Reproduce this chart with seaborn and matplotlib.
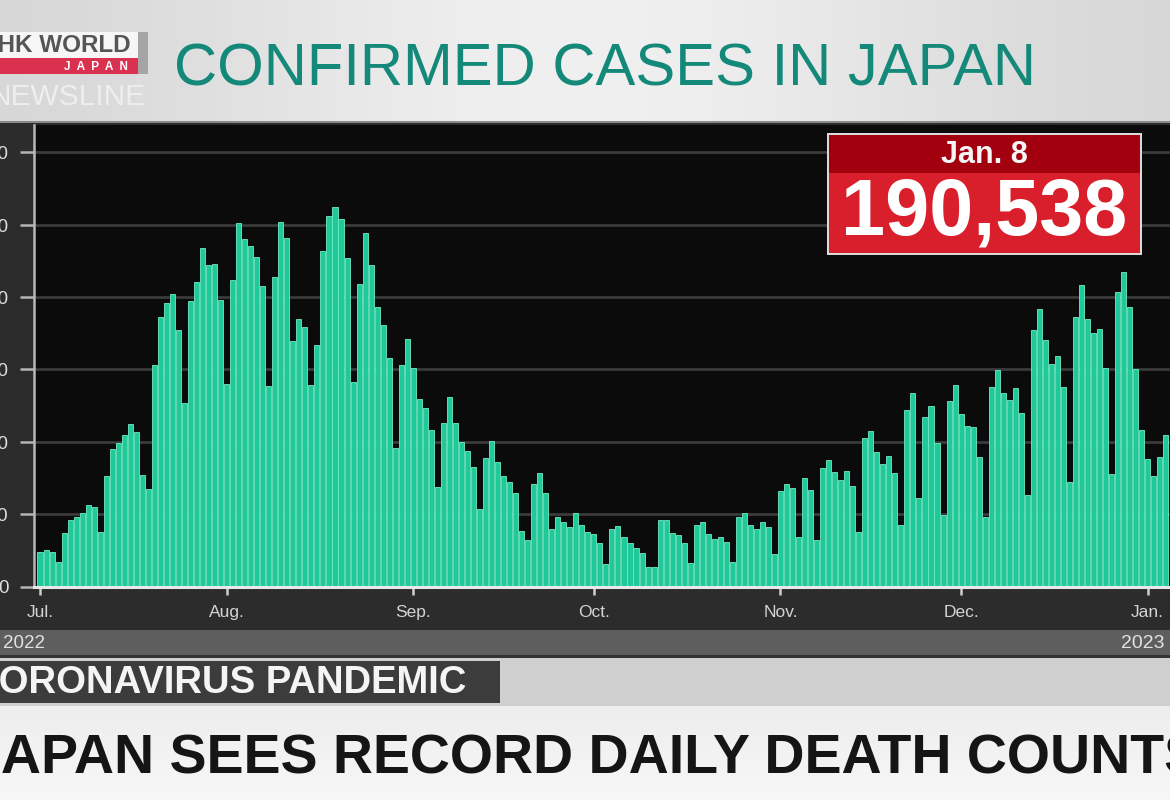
import numpy as np
import pandas as pd
import matplotlib
matplotlib.use("Agg")
import matplotlib.pyplot as plt
import seaborn as sns
from matplotlib.patches import Rectangle

# ---------------- data (daily confirmed cases, thousands) ----------------
jul_cases = [23.7, 25.3, 23.7, 17.3, 36.8, 46.0, 48.3, 50.6, 56.4, 54.8, 37.5,
             76.4, 95.0, 99.0, 104.7, 112.0, 106.5, 77.0, 67.4, 153.0, 186.0,
             195.6, 201.8, 177.0, 127.0, 197.0, 210.5, 234.0, 222.0, 223.0, 198.0]
aug_cases = [140.0, 211.7, 250.8, 240.0, 235.0, 228.0, 207.5, 138.5, 214.0, 252.0,
             241.0, 169.8, 184.5, 179.5, 139.0, 166.8, 232.0, 256.0, 262.0, 254.0,
             227.0, 141.0, 209.0, 244.0, 222.0, 193.0, 180.6, 158.0, 96.0, 153.0, 171.0]
sep_cases = [150.7, 129.5, 123.6, 108.0, 68.6, 112.7, 130.7, 113.0, 100.0, 94.0,
             82.4, 53.6, 88.6, 100.8, 86.3, 76.4, 72.0, 64.4, 38.7, 32.2,
             70.6, 78.2, 64.4, 39.8, 47.9, 44.9, 41.0, 50.6, 42.6, 37.5]
oct_cases = [36.4, 30.0, 16.0, 40.0, 41.9, 34.0, 30.4, 27.0, 23.0, 13.3, 13.3,
             46.0, 46.0, 37.3, 35.7, 30.0, 16.6, 42.6, 44.4, 36.4, 32.7, 34.0,
             31.0, 17.3, 48.3, 50.6, 42.6, 40.0, 44.9, 41.0, 22.6]
nov_cases = [66.0, 70.9, 67.9, 34.5, 74.8, 66.7, 32.2, 81.7, 87.4, 79.4, 74.0,
             80.0, 69.5, 37.5, 103.0, 107.5, 93.2, 84.4, 90.4, 78.2, 42.6, 122.0,
             134.0, 61.0, 117.0, 125.0, 99.0, 49.5, 128.0, 139.0]
dec_cases = [119.0, 111.0, 110.0, 89.7, 48.3, 138.0, 149.6, 133.5, 129.0, 137.0,
             120.0, 63.3, 177.0, 191.5, 170.0, 154.0, 159.0, 137.6, 72.0, 186.0,
             208.0, 184.8, 175.0, 178.0, 150.7, 77.5, 203.6, 217.4, 193.0, 150.0, 108.0]
jan_cases = [88.0, 76.4, 89.7, 105.0]

month_labels = ["Jul.", "Aug.", "Sep.", "Oct.", "Nov.", "Dec.", "Jan."]
year_labels = ["2022", "2023"]
y_ticks = [0, 50000, 100000, 150000, 200000, 250000, 300000]

title_text = "CONFIRMED CASES IN JAPAN"
box_date = "Jan. 8"
box_value = "190,538"
banner_text = "CORONAVIRUS PANDEMIC"
headline_text = "JAPAN SEES RECORD DAILY DEATH COUNTS"

months = [jul_cases, aug_cases, sep_cases, oct_cases, nov_cases, dec_cases, jan_cases]
cases = [v * 1000 for m in months for v in m]
dates = pd.date_range("2022-07-01", periods=len(cases), freq="D")
df = pd.DataFrame({"date": dates.strftime("%Y-%m-%d"), "cases": cases})
month_starts = list(np.cumsum([0] + [len(m) for m in months[:-1]]))

# ---------------- figure ----------------
sns.set_theme(style="dark")
plt.rcParams["font.family"] = ["Liberation Sans", "DejaVu Sans"]

W, H = 1170, 800
fig = plt.figure(figsize=(W / 100, H / 100), dpi=100)

def fx(px):
    return px / W

def fy(py):
    return 1 - py / H

# background layer in pixel coordinates
bg = fig.add_axes([0, 0, 1, 1])
bg.axis("off")
cols = np.linspace(0, 1, 400)
shade = 0.83 + 0.11 * np.exp(-((cols - 0.5) / 0.35) ** 2)
grad = np.dstack([shade, shade, shade])
grad = np.repeat(grad, 20, axis=0)
bg.imshow(grad, extent=(0, W, 122, 0), aspect="auto", zorder=0)
bottom_shade = np.linspace(0.93, 0.97, 50)[:, None] * np.ones((50, 10))
bg.imshow(np.dstack([bottom_shade] * 3), extent=(0, W, H, 706), aspect="auto", zorder=0)
bg.set_xlim(0, W)
bg.set_ylim(H, 0)

def rect(ax, x0, y0, x1, y1, color, z=1, **kw):
    ax.add_patch(Rectangle((x0, y0), x1 - x0, y1 - y0, facecolor=color,
                           edgecolor="none", zorder=z, **kw))

rect(bg, 0, 121, W, 123, "#8a8a8a", 2)
rect(bg, 0, 123, W, 630, "#2c2c2c", 1)
rect(bg, 0, 630, W, 655, "#5e5e5e", 1)
rect(bg, 0, 655, W, 658, "#333333", 1)
rect(bg, 0, 658, W, 706, "#cfcfcf", 1)
rect(bg, 0, 661, 500, 703, "#3c3c3c", 2)

# ---------------- chart ----------------
ax_left, ax_top, ax_bottom = 34, 125, 586.7
ax = fig.add_axes([fx(ax_left), fy(ax_bottom), 1 - fx(ax_left),
                   (ax_bottom - ax_top) / H])
sns.barplot(data=df, x="date", y="cases", ax=ax, color="#1fc99a",
            saturation=1, width=0.84, edgecolor="#70ecc4", linewidth=0.6,
            errorbar=None, zorder=3)
ax.set_facecolor("#0b0b0b")
ax.set_xlim(-1.0, 187.7)
ax.set_ylim(0, 318800)
ax.set_xlabel("")
ax.set_ylabel("")
ax.set_yticks(y_ticks)
ax.set_yticklabels([f"{v:,}" for v in y_ticks])
ax.set_xticks(month_starts)
ax.set_xticklabels(month_labels)
ax.yaxis.grid(True, color="#3b3b3b", linewidth=2)
ax.xaxis.grid(False)
ax.set_axisbelow(True)
ax.tick_params(axis="y", left=True, length=10, width=1.8, color="#b5b5b5",
               pad=8.5, labelsize=13.5, labelcolor="#dedede")
ax.tick_params(axis="x", bottom=True, length=6, width=1.8, color="#cfcfcf",
               pad=7, labelsize=12.5, labelcolor="#d4d4d4")
for s in ["top", "right"]:
    ax.spines[s].set_visible(False)
ax.spines["left"].set_color("#b8b8b8")
ax.spines["left"].set_linewidth(1.8)
ax.spines["bottom"].set_color("#e8e8e8")
ax.spines["bottom"].set_linewidth(2.2)
ax.spines["bottom"].set_zorder(5)

# ---------------- overlay ----------------
ov = fig.add_axes([0, 0, 1, 1])
ov.set_zorder(10)
ov.patch.set_visible(False)
ov.axis("off")
ov.set_xlim(0, W)
ov.set_ylim(H, 0)

# logo
rect(ov, 0, 32, 138, 58, "#f6f6f6", 2)
rect(ov, 0, 58, 138, 74, "#d9314f", 2)
rect(ov, 138, 32, 148, 74, "#a5a5a5", 2)
ov.text(131, 46, "NHK WORLD", ha="right", va="center", fontsize=17.5,
        fontweight="bold", color="#555555", zorder=3)
ov.text(128, 66.5, "J  A  P  A  N", ha="right", va="center", fontsize=8.5,
        fontweight="bold", color="#ffffff", zorder=3)
ov.text(146, 97, "NEWSLINE", ha="right", va="center", fontsize=21.5,
        color="#eeeeee", zorder=3)

# title
ov.text(605, 70, title_text, ha="center", va="center", fontsize=43,
        color="#14897a", zorder=3)

# year labels
ov.text(3, 643, year_labels[0], ha="left", va="center", fontsize=13.5,
        color="#e2e2e2", zorder=3)
ov.text(1121, 643, year_labels[1], ha="left", va="center", fontsize=14,
        color="#e2e2e2", zorder=3)

# value box
rect(ov, 827, 133, 1142, 255, "#d9d9d9", 2)
rect(ov, 829, 135, 1140, 173, "#a3000f", 3)
rect(ov, 829, 173, 1140, 253, "#d81f2b", 3)
ov.text(984, 155, box_date, ha="center", va="center", fontsize=22,
        fontweight="bold", color="#f5f5f5", zorder=4)
ov.text(984, 214, box_value, ha="center", va="center", fontsize=57,
        fontweight="bold", color="#ffffff", zorder=4)

# banner and headline
ov.text(466, 683, banner_text, ha="right", va="center", fontsize=27.5,
        fontweight="bold", color="#f4f4f4", zorder=4)
ov.text(586, 760, headline_text, ha="center", va="center", fontsize=40,
        fontweight="bold", color="#151515", zorder=4)

fig.savefig("out.png", dpi=100)
